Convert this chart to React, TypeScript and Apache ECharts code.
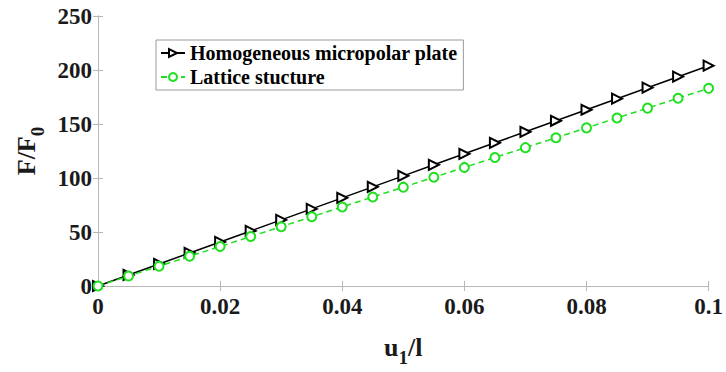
import React, { useEffect, useRef } from "react";
import * as echarts from "echarts";

const xValues = [0, 0.005, 0.01, 0.015, 0.02, 0.025, 0.03, 0.035, 0.04, 0.045, 0.05, 0.055, 0.06, 0.065, 0.07, 0.075, 0.08, 0.085, 0.09, 0.095, 0.1];
const homogeneous = [0, 10.2, 20.4, 30.6, 40.8, 51.0, 61.2, 71.4, 81.6, 91.8, 102.0, 112.2, 122.4, 132.6, 142.8, 153.0, 163.2, 173.4, 183.6, 193.8, 204.0];
const lattice = [0, 9.2, 18.3, 27.5, 36.6, 45.8, 54.9, 64.1, 73.2, 82.4, 91.5, 100.7, 109.8, 119.0, 128.1, 137.3, 146.4, 155.6, 164.7, 173.9, 183.0];
const seriesNames = ["Homogeneous micropolar plate", "Lattice stucture"];

const FONT = "'Liberation Serif', 'Times New Roman', serif";
const AXIS_GREY = "#b8b8b8";
const TEXT = "#1a1a1a";
const GREEN = "#1ee01e";

export default function App() {
  const ref = useRef<HTMLDivElement>(null);
  useEffect(() => {
    const chart = echarts.init(ref.current!, null, { renderer: "svg" });
    const tickStyle = { show: true, inside: true, length: 5, lineStyle: { color: AXIS_GREY } };
    const lineStyle = { show: true, lineStyle: { color: AXIS_GREY, width: 1 } };
    const nameRich = {
      a: { fontFamily: FONT, fontWeight: "bold", fontSize: 26, color: TEXT, lineHeight: 26, verticalAlign: "top" },
      b: { fontFamily: FONT, fontWeight: "bold", fontSize: 19, color: TEXT, lineHeight: 19, padding: [14, 0, 0, 0], verticalAlign: "top" },
    };
    chart.setOption({
      animation: false,
      backgroundColor: "#fff",
      grid: { left: 98, right: 16, top: 16, bottom: 83 },
      legend: {
        left: 156,
        top: 40,
        orient: "vertical",
        itemGap: 4,
        itemWidth: 24,
        itemHeight: 10,
        padding: [3, 6, 3, 4],
        borderColor: "#9a9a9a",
        borderWidth: 1,
        backgroundColor: "#fff",
        textStyle: { fontFamily: FONT, fontWeight: "bold", fontSize: 20, color: "#000" },
        data: seriesNames,
      },
      xAxis: [
        {
          type: "value",
          min: 0,
          max: 0.1,
          interval: 0.02,
          name: "{a|u}{b|1}{a|/l}",
          nameLocation: "middle",
          nameGap: 48,
          nameTextStyle: { rich: nameRich },
          axisLine: lineStyle,
          axisTick: tickStyle,
          splitLine: { show: false },
          axisLabel: { fontFamily: FONT, fontWeight: "bold", fontSize: 23, color: TEXT, margin: 9 },
        },
        {
          type: "value",
          position: "top",
          min: 0,
          max: 0.1,
          interval: 0.02,
          axisLine: lineStyle,
          axisTick: tickStyle,
          axisLabel: { show: false },
          splitLine: { show: false },
        },
      ],
      yAxis: [
        {
          type: "value",
          min: 0,
          max: 250,
          interval: 50,
          name: "{a|F/F}{b|0}",
          nameLocation: "middle",
          nameGap: 52,
          nameRotate: 90,
          nameTextStyle: { rich: nameRich },
          axisLine: lineStyle,
          axisTick: tickStyle,
          splitLine: { show: false },
          axisLabel: { fontFamily: FONT, fontWeight: "bold", fontSize: 23, color: TEXT, margin: 6 },
        },
        {
          type: "value",
          position: "right",
          min: 0,
          max: 250,
          interval: 50,
          axisLine: lineStyle,
          axisTick: tickStyle,
          axisLabel: { show: false },
          splitLine: { show: false },
        },
      ],
      series: [
        {
          name: seriesNames[0],
          type: "line",
          data: xValues.map((x, i) => [x, homogeneous[i]]),
          lineStyle: { color: "#000", width: 1.5 },
          itemStyle: { color: "#000", borderColor: "#000", borderWidth: 1.2 },
          symbol: "emptyTriangle",
          symbolRotate: -90,
          symbolSize: 10,
          z: 3,
        },
        {
          name: seriesNames[1],
          type: "line",
          data: xValues.map((x, i) => [x, lattice[i]]),
          lineStyle: { color: GREEN, width: 1.5, type: [6, 4] },
          itemStyle: { color: GREEN, borderColor: GREEN, borderWidth: 1.5 },
          symbol: "emptyCircle",
          symbolSize: 9,
          z: 4,
        },
      ],
    });
    return () => chart.dispose();
  }, []);
  return <div ref={ref} style={{ width: 726, height: 372, position: "absolute", left: 0, top: 0 }} />;
}
